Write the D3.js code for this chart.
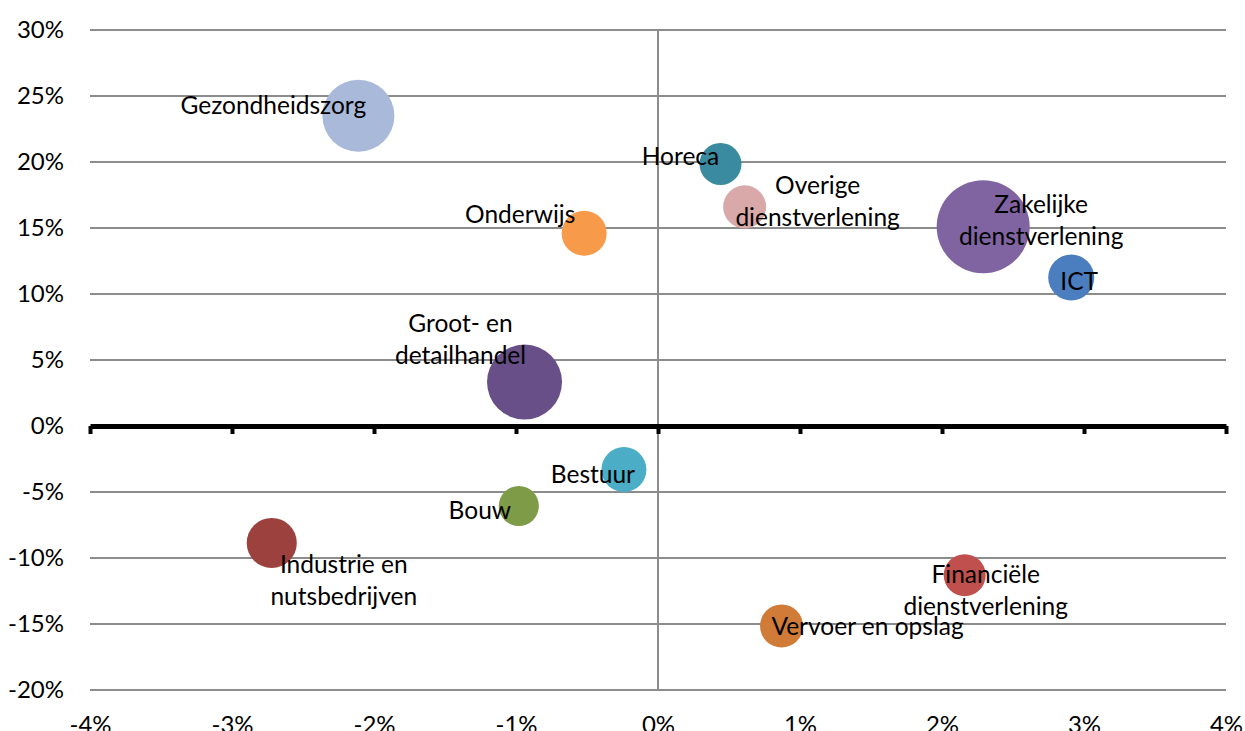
<!DOCTYPE html>
<html>
<head>
<meta charset="utf-8">
<script src="https://cdn.jsdelivr.net/npm/d3@7"></script>
<style>
  html, body { margin: 0; padding: 0; background: #fff; }
  svg { display: block; font-family: Lato, "Open Sans", sans-serif; }
</style>
</head>
<body>
<svg id="chart" width="1245" height="731"></svg>
<script>
// ---- Data ----
const sectors = [
  "Gezondheidszorg", "Horeca", "Overige dienstverlening", "Onderwijs",
  "Zakelijke dienstverlening", "ICT", "Groot- en detailhandel", "Bestuur",
  "Bouw", "Industrie en nutsbedrijven", "Financiële dienstverlening", "Vervoer en opslag"
];
// x: change (percentage points), y: change (%)
const xValues = [-2.11, 0.44, 0.61, -0.52, 2.29, 2.91, -0.94, -0.24, -0.98, -2.72, 2.16, 0.87];
const yValues = [23.5, 19.85, 16.6, 14.6, 15.1, 11.25, 3.33, -3.3, -6.06, -8.86, -11.3, -15.15];
// bubble size (relative)
const sizes = [600, 204, 214, 234, 1000, 245, 650, 234, 185, 290, 204, 214];
const labelLines = [
  ["Gezondheidszorg"], ["Horeca"], ["Overige", "dienstverlening"], ["Onderwijs"],
  ["Zakelijke", "dienstverlening"], ["ICT"], ["Groot- en", "detailhandel"], ["Bestuur"],
  ["Bouw"], ["Industrie en", "nutsbedrijven"], ["Financiële", "dienstverlening"], ["Vervoer en opslag"]
];
const xTicks = [-4, -3, -2, -1, 0, 1, 2, 3, 4];
const yTicks = [-20, -15, -10, -5, 0, 5, 10, 15, 20, 25, 30];

// ---- Styling ----
const colors = ["#A9B9D9", "#3B8BA0", "#D9A8A8", "#F79A4A", "#8064A2", "#4A7EBF",
                "#684F88", "#4BADC6", "#7E9B48", "#9C413E", "#C0504D", "#D07B37"];
// label placement relative to bubble centre: [dx to text centre, dy to first baseline]
const labelPlacement = [[-85, -2], [-40, 1], [73, -13], [-64, -10], [58, -14], [8, 12.5],
                        [-64, -50], [-31, 13.5], [-39, 13], [72, 30], [21, 7.5], [86, 9]];
const fontSize = 24, labelFontSize = 24.5, lineHeight = 32;

const svg = d3.select("#chart");
const mLeft = 90, mRight = 1226, mTop = 30, mBottom = 690;

const x = d3.scaleLinear().domain([-4, 4]).range([mLeft, mRight]);
const y = d3.scaleLinear().domain([-20, 30]).range([mBottom, mTop]);
const r = d3.scaleSqrt().domain([0, d3.max(sizes)]).range([0, 46.5]);

// Horizontal gridlines
svg.append("g").selectAll("line")
  .data(yTicks.filter(d => d !== 0))
  .join("line")
  .attr("x1", mLeft).attr("x2", mRight)
  .attr("y1", d => y(d)).attr("y2", d => y(d))
  .attr("stroke", "#8c8c8c").attr("stroke-width", 2);

// Vertical line at 0
svg.append("line")
  .attr("x1", x(0)).attr("x2", x(0))
  .attr("y1", y(30)).attr("y2", y(-20))
  .attr("stroke", "#8c8c8c").attr("stroke-width", 2);

// Y axis labels
const yAxis = svg.append("g")
  .attr("transform", `translate(${mLeft},0)`)
  .call(d3.axisLeft(y).tickValues(yTicks).tickSize(0).tickPadding(26).tickFormat(d => d + "%"));
yAxis.select(".domain").remove();
yAxis.selectAll("text").attr("font-size", fontSize).attr("font-family", "Lato, sans-serif").attr("fill", "#000");

// X axis labels at bottom
const xAxisLabels = svg.append("g")
  .attr("transform", `translate(0,${mBottom})`)
  .call(d3.axisBottom(x).tickValues(xTicks).tickSize(0).tickPadding(26).tickFormat(d => d + "%"));
xAxisLabels.select(".domain").remove();
xAxisLabels.selectAll("text").attr("font-size", fontSize).attr("font-family", "Lato, sans-serif").attr("fill", "#000");

// Bubbles
const data = sectors.map((s, i) => ({
  name: s, x: xValues[i], y: yValues[i], size: sizes[i],
  color: colors[i], lines: labelLines[i], place: labelPlacement[i]
}));

svg.append("g").selectAll("circle")
  .data(data)
  .join("circle")
  .attr("cx", d => x(d.x))
  .attr("cy", d => y(d.y))
  .attr("r", d => r(d.size))
  .attr("fill", d => d.color);

// Zero axis (thick black with ticks)
const zeroAxis = svg.append("g")
  .attr("transform", `translate(0,${y(0)})`)
  .call(d3.axisBottom(x).tickValues(xTicks).tickSize(8).tickSizeOuter(0).tickFormat(""));
zeroAxis.select(".domain").attr("stroke", "#000").attr("stroke-width", 5);
zeroAxis.selectAll(".tick line").attr("stroke", "#000").attr("stroke-width", 4);

// Labels
const labels = svg.append("g").selectAll("text")
  .data(data)
  .join("text")
  .attr("text-anchor", "middle")
  .attr("font-size", labelFontSize)
  .attr("fill", "#000")
  .attr("x", d => x(d.x) + d.place[0])
  .attr("y", d => y(d.y) + d.place[1]);
labels.selectAll("tspan")
  .data(d => d.lines.map(l => ({ text: l, cx: x(d.x) + d.place[0] })))
  .join("tspan")
  .attr("x", t => t.cx)
  .attr("dy", (t, i) => i === 0 ? 0 : lineHeight)
  .text(t => t.text);
</script>
</body>
</html>
